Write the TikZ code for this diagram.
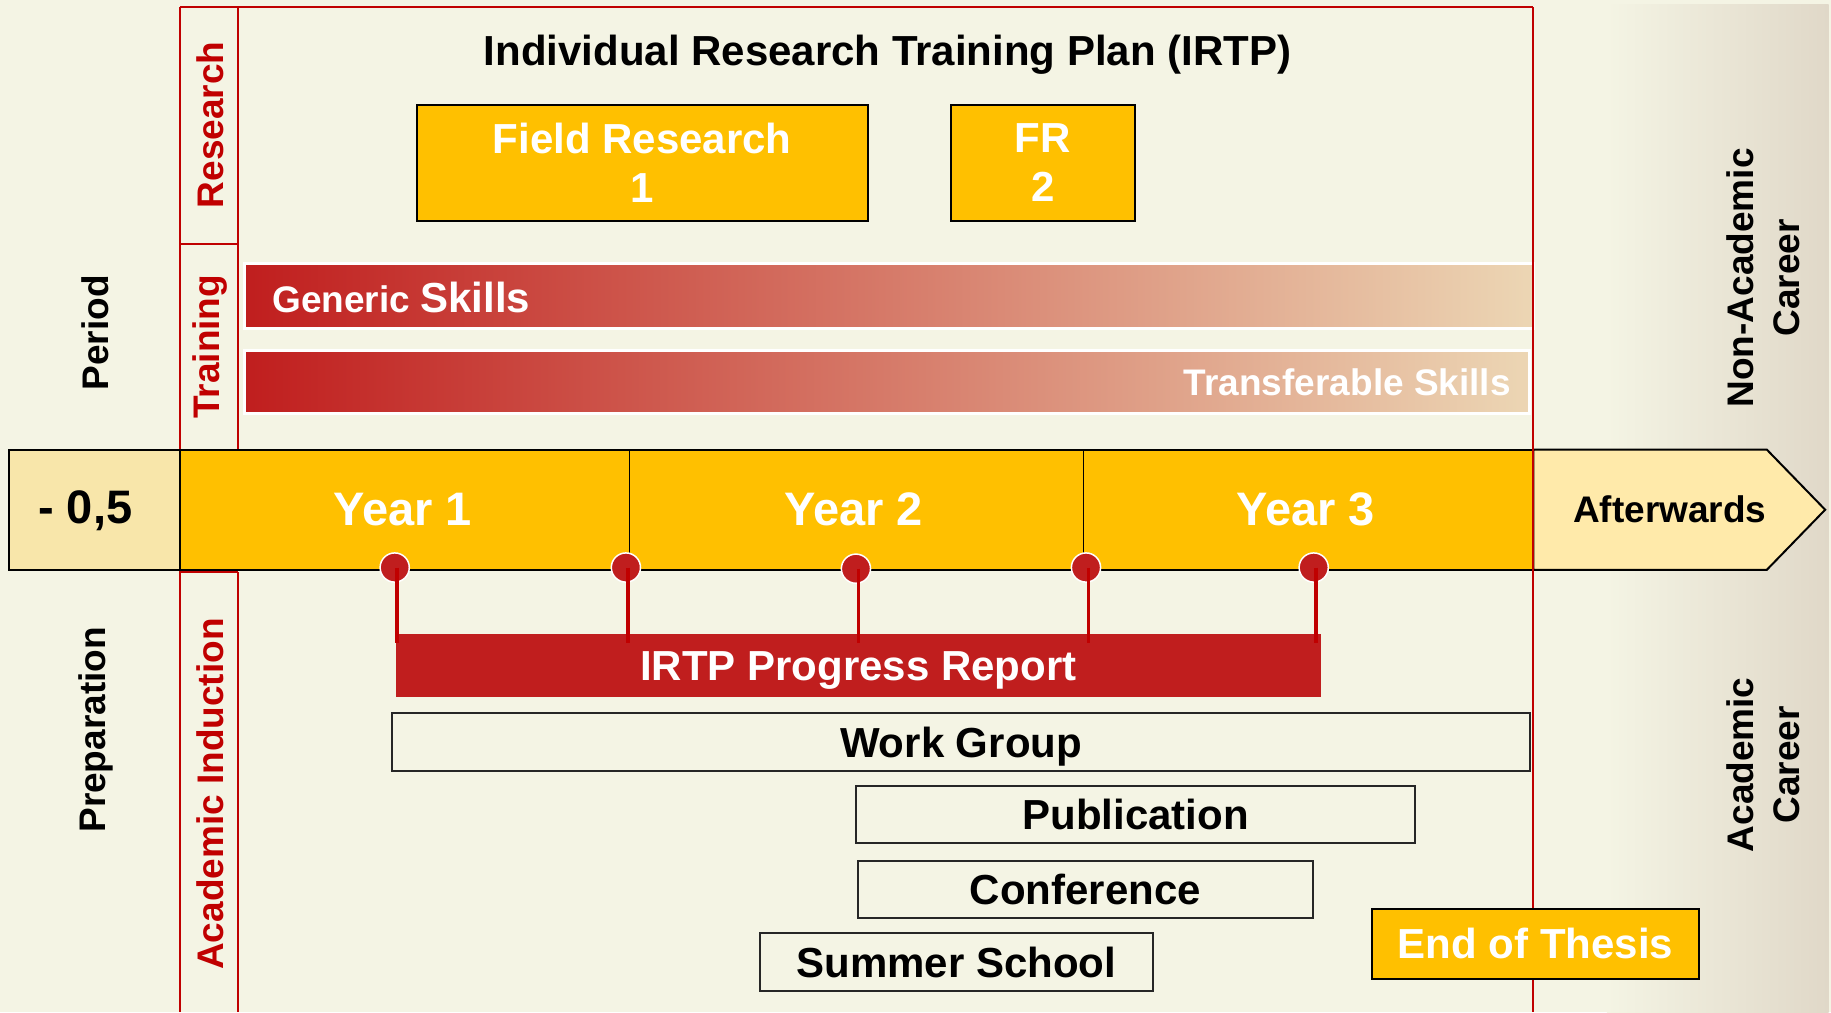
\documentclass[tikz,border=0pt]{standalone}
\usepackage{fontspec}
\setmainfont{Liberation Sans}
\definecolor{bg}{RGB}{244,244,228}
\definecolor{framered}{RGB}{192,0,0}
\definecolor{gold}{RGB}{255,192,0}
\definecolor{pale}{RGB}{248,230,170}
\definecolor{paler}{RGB}{255,234,170}
\definecolor{barred}{RGB}{192,30,30}
\definecolor{tan}{RGB}{236,214,180}
\definecolor{side}{RGB}{224,216,200}
\newcommand\pxu{1.1677pt}
\begin{document}
\begin{tikzpicture}[x=1.1677pt,y=-1.1677pt,
  fbig/.style={font=\fontsize{42}{49}\selectfont\bfseries},
  fmid/.style={font=\fontsize{37}{46}\selectfont\bfseries},
  fyear/.style={font=\fontsize{47}{52}\selectfont\bfseries},
  boxed/.style={draw=black, line width=2pt, inner sep=0pt, outer sep=0pt},
  goldbox/.style={boxed, fill=gold, text=white, fbig, align=center},
  plainbox/.style={boxed, draw=black!85, text=black, fbig, text depth=0pt},
  redline/.style={draw=framered, line width=2pt},
  vlabel/.style={rotate=90, fmid, align=center},
  milestone/.style={circle, fill=barred, draw=white, line width=1.5pt, minimum size=25*\pxu, inner sep=0pt},
  stem/.style={draw=framered, line width=3.5pt},
  skillbar/.style={draw=white, line width=3pt, left color=barred, right color=tan, inner sep=0pt, outer sep=0pt},
]
\useasboundingbox (0,0) rectangle (1568,867);
\fill[bg] (0,0) rectangle (1568,867);
\shade[left color=bg, right color=side] (1376,4) rectangle (1566,867);

% frame
\draw[redline] (154,6) -- (1313,6);
\draw[redline] (154,6) -- (154,385) (204,6) -- (204,385);
\draw[redline] (154,209) -- (204,209);
\draw[redline] (154,490) -- (204,490);
\draw[redline] (154,488) -- (154,867) (204,490) -- (204,867);

% title and research
\node[fbig] (title) at (760,47) {Individual Research Training Plan (IRTP)};
\node[goldbox, minimum width=386*\pxu, minimum height=99*\pxu] (fr1) at (550,139.5) {Field Research\\1};
\node[goldbox, minimum width=158*\pxu, minimum height=99*\pxu] (fr2) at (893,139.5) {FR\\2};

% training bars
\node[skillbar, minimum width=1104*\pxu, minimum height=55*\pxu] (generic) at (761,253.5) {};
\node[text=white, anchor=west, inner sep=0pt] (generictxt) at (233,254.5)
  {\fontsize{37}{44}\selectfont\bfseries Generic \fontsize{42}{44}\selectfont Skills};
\node[skillbar, minimum width=1101*\pxu, minimum height=54*\pxu] (transfer) at (759.5,327) {};
\node[text=white, anchor=east, inner sep=0pt, fmid] (transfertxt) at (1294,327) {Transferable Skills};

% timeline
\node[boxed, fill=pale, minimum width=146*\pxu, minimum height=103*\pxu] (pre) at (81,436.5) {};
\node[fyear, inner sep=0pt] (pretxt) at (73,437) {- 0,5};
\node[boxed, fill=gold, minimum width=1159*\pxu, minimum height=103*\pxu] (years) at (733.5,436.5) {};
\draw[black, line width=1.5pt] (539,386) -- (539,487) (928,386) -- (928,487);
\node[fyear, text=white] (y1) at (345,436) {Year 1};
\node[fyear, text=white] (y2) at (731,436) {Year 2};
\node[fyear, text=white] (y3) at (1118,436) {Year 3};
\draw[black, line width=2pt, fill=paler] (1313,385) -- (1513,385) -- (1563,436.5) -- (1513,488) -- (1313,488) -- cycle;
\node[fmid] (after) at (1430,436) {Afterwards};
\draw[redline] (1313,6) -- (1313,867);

% side labels
\node[vlabel] (period) at (82,285) {Period};
\node[vlabel] (prep) at (82,625) {Preparation};
\node[vlabel, text=framered] (research) at (180,107) {Research};
\node[vlabel, text=framered] (training) at (180,297) {Training};
\node[vlabel, text=framered] (induction) at (180,680) {Academic Induction};
\node[vlabel] (nonacad) at (1510,238) {Non-Academic\\Career};
\node[vlabel] (acad) at (1510,655) {Academic\\Career};

% progress report and milestones
\node[fill=barred, inner sep=0pt, outer sep=0pt, minimum width=792*\pxu, minimum height=54*\pxu, text=white, fbig, text depth=0pt] (irtp) at (735,570) {IRTP Progress Report};
\node[milestone] (m1) at (338,486) {};
\node[milestone] (m2) at (536,486) {};
\node[milestone] (m3) at (733,487) {};
\node[milestone] (m4) at (930,486) {};
\node[milestone] (m5) at (1125,486) {};
\foreach \m in {m1,m2,m3,m4,m5}{
  \draw[stem] ([xshift=2*\pxu]\m.center) -- ([xshift=2*\pxu, yshift=-8*\pxu]\m.center |- irtp.north);
}

% activity boxes
\node[plainbox, minimum width=974*\pxu, minimum height=49*\pxu] (work) at (823,635.5) {Work Group};
\node[plainbox, minimum width=479*\pxu, minimum height=49*\pxu] (pub) at (972.5,697.5) {Publication};
\node[plainbox, minimum width=389*\pxu, minimum height=49*\pxu] (conf) at (929.5,761.5) {Conference};
\node[plainbox, minimum width=336*\pxu, minimum height=50*\pxu] (summer) at (819,824) {Summer School};
\node[goldbox, minimum width=280*\pxu, minimum height=60*\pxu] (thesis) at (1315,808) {End of Thesis};
\end{tikzpicture}
\end{document}
